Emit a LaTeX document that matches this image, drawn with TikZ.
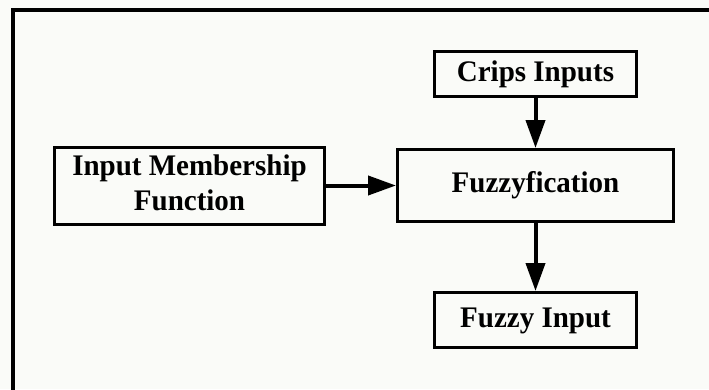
\documentclass[tikz,border=0pt]{standalone}
\usepackage{fontspec}
\usepackage{graphicx}
\setmainfont{Liberation Serif}
\usetikzlibrary{arrows.meta}
\definecolor{bgtint}{RGB}{250,251,248}
\newcommand{\tallsetting}[1]{\scalebox{1}[1.03]{\begin{tabular}{@{}c@{}}#1\end{tabular}}}
\tikzset{
  x=1pt,y=1pt,
  box/.style={draw=black, line width=3pt, fill=none, align=center, inner sep=0pt,
    font=\fontsize{29}{34}\selectfont\bfseries, text=black},
  flow/.style={draw=black, line width=4pt, -{Triangle[length=28pt,width=19pt]}},
  frameline/.style={draw=black, line width=4pt}
}
\begin{document}
\begin{tikzpicture}
\useasboundingbox (0,0) rectangle (709,389);
\clip (0,0) rectangle (709,389);
\fill[bgtint] (0,0) rectangle (709,389);
\draw[frameline] (13,-10) -- (13,379) -- (720,379);
\node[box, minimum width=202pt, minimum height=45pt] (crisp) at (535.5,315) {\tallsetting{Crips Inputs}};
\node[box, minimum width=276pt, minimum height=72pt] (fuzz) at (535.5,203.5) {\tallsetting{Fuzzyfication}};
\node[box, minimum width=270pt, minimum height=77pt] (imf) at (189.5,203) {\raisebox{-3pt}{\tallsetting{Input Membership\\Function}}};
\node[box, minimum width=202pt, minimum height=55pt] (fin) at (535.5,69) {\tallsetting{Fuzzy Input}};
\draw[flow] (crisp) -- (fuzz);
\draw[flow] (imf.east |- fuzz.west) -- (fuzz.west);
\draw[flow] (fuzz) -- (fin);
\end{tikzpicture}
\end{document}
